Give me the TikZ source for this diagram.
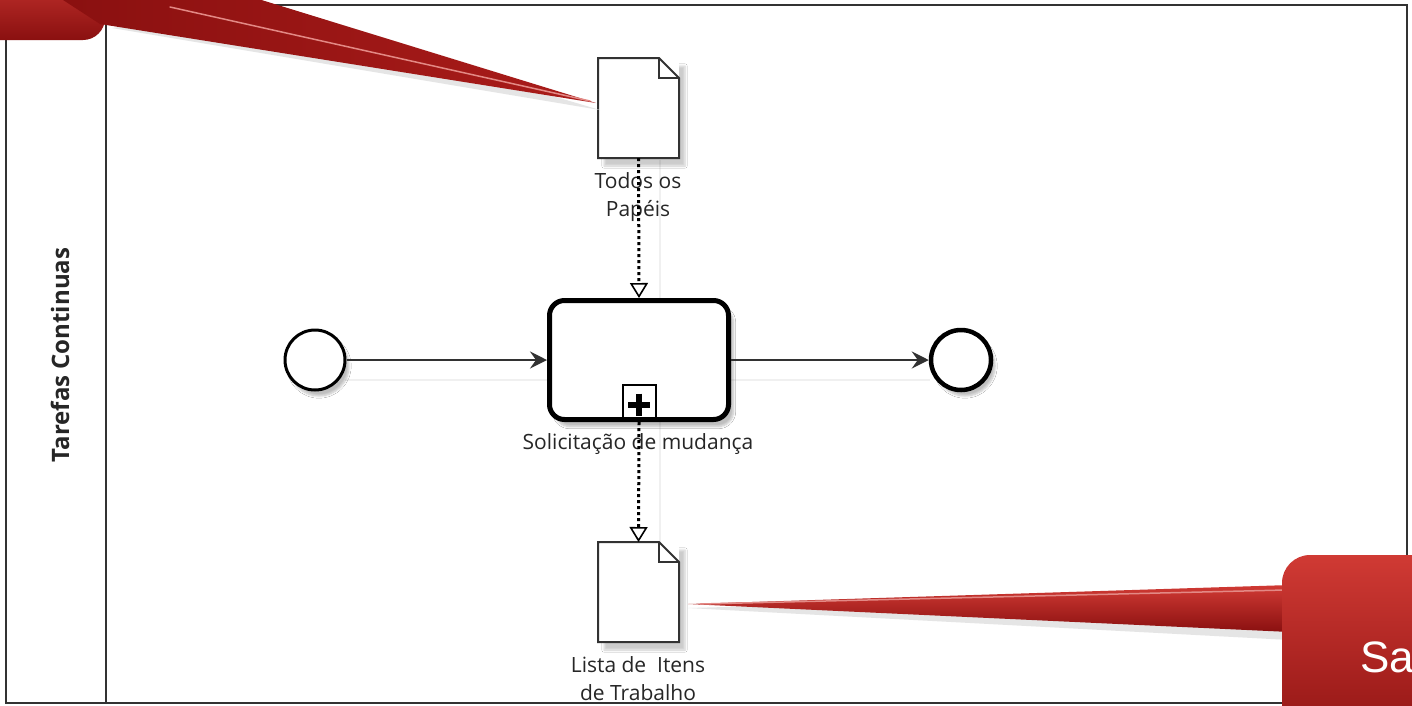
\documentclass[tikz,border=0pt]{standalone}
\usepackage{fontspec}
\setmainfont{Open Sans}
\newfontfamily\arialfont{Liberation Sans}
\usetikzlibrary{arrows.meta,calc,shadows.blur}
\definecolor{calltop}{RGB}{208,58,52}
\definecolor{callbot}{RGB}{138,16,16}
\definecolor{callmid}{RGB}{170,28,26}
\definecolor{edgegray}{RGB}{50,50,50}
\begin{document}
\begin{tikzpicture}[x=1pt,y=-1pt,
  lbl/.style={font=\fontsize{21}{28}\selectfont, text=black!85, align=center, inner sep=0},
  docbox/.style={minimum width=81, minimum height=100, inner sep=0, outer sep=0},
  docline/.style={draw=edgegray, line width=2, fill=white, line join=miter},
  evt/.style={circle, draw=black, fill=white, minimum size=60, inner sep=0, blur shadow={shadow blur steps=6, shadow xshift=4pt, shadow yshift=-6pt, shadow opacity=25}},
  seqflow/.style={draw=edgegray, line width=1.8, -{Stealth[length=17, width=17, inset=6]}},
  assoc/.style={draw=black, line width=3, dash pattern=on 3 off 3, -{Triangle[open, length=15, width=18, line width=1.6]}},
  shadowline/.style={draw=black!6, line width=2},
]
\useasboundingbox (0,0) rectangle (1412,705);
\clip (0,0) rectangle (1412,705);
\fill[white] (0,0) rectangle (1412,705);

% pool and lane
\draw[edgegray, line width=2.5] (6,5) rectangle (1407,703);
\draw[edgegray, line width=2.5] (106,5) -- (106,703);
\node[rotate=90, font=\bfseries\fontsize{24}{28}\selectfont, text=black!85, inner sep=0] (lane) at (60,355) {Tarefas Continuas};

% faint shadow lines
\draw[shadowline] (345,380) -- (547,380);
\draw[shadowline] (731,380) -- (930,380);
\draw[shadowline] (660,160) -- (660,299);
\draw[shadowline] (660,421) -- (660,542);

% events
\node[evt, line width=3] (start) at (315,360) {};
\node[evt, line width=4.5] (end) at (961,360) {};

% task
\node[draw=black, fill=white, line width=5, rounded corners=15, minimum width=179, minimum height=119, inner sep=0,
  blur shadow={shadow blur steps=6, shadow xshift=5pt, shadow yshift=-7pt, shadow opacity=25}] (task) at (639,360) {};
\node[draw=black, fill=white, line width=2, minimum size=33, inner sep=0] (mark) at (639,401.5) {};
\draw[line width=6] ($(mark.center)+(-11,3)$) -- ($(mark.center)+(11,3)$);
\draw[line width=6] ($(mark.center)+(0,-8)$) -- ($(mark.center)+(0,14)$);
\node[lbl] (tasklbl) at (638,444) {Solicitação de mudança};

% data objects
\node[docbox, blur shadow={shadow blur steps=6, shadow xshift=6pt, shadow yshift=-8pt, shadow opacity=20}, fill=white] (doc1) at (638.5,108) {};
\draw[docline] (doc1.north west) -- ($(doc1.north east)+(-20,0)$) -- ($(doc1.north east)+(0,20)$) -- (doc1.south east) -- (doc1.south west) -- cycle;
\draw[edgegray, line width=2] ($(doc1.north east)+(-20,0)$) |- ($(doc1.north east)+(0,20)$);
\node[lbl] (doc1lbl) at (638,197) {Todos os\\Papéis};

\node[docbox, blur shadow={shadow blur steps=6, shadow xshift=6pt, shadow yshift=-8pt, shadow opacity=20}, fill=white] (doc2) at (638.5,592) {};
\draw[docline] (doc2.north west) -- ($(doc2.north east)+(-20,0)$) -- ($(doc2.north east)+(0,20)$) -- (doc2.south east) -- (doc2.south west) -- cycle;
\draw[edgegray, line width=2] ($(doc2.north east)+(-20,0)$) |- ($(doc2.north east)+(0,20)$);
\node[lbl] (doc2lbl) at (638,679) {Lista de \ Itens\\de Trabalho};

% flows
\draw[seqflow] (start) -- (task);
\draw[seqflow] (task) -- (end);
\draw[assoc] (doc1.south) -- (task.north);
\draw[assoc] (task.south) -- (doc2.north);

% callout top-left
\fill[black!10] (112,28) -- (255,8) -- (600,110) -- cycle;
\path[top color=calltop, bottom color=callbot, rounded corners=22] (-40,-40) rectangle (105,40);
\path[left color=callbot, right color=callmid] (60,-2) -- (255,-2) -- (596,103) -- (100,24) -- cycle;
\draw[calltop!60!white, line width=1.5, line cap=round] (170,7) -- (590,101);
\coordinate (tip1) at (596,103);

% callout bottom-right
\fill[black!10] (688,608) -- (1290,592) -- (1290,640) -- cycle;
\path[top color=calltop, bottom color=callbot] (1290,585) -- (688,604) -- (1290,632) -- cycle;
\draw[calltop!60!white, line width=1.5] (700,604) -- (1285,590);
\path[top color=calltop, bottom color=callbot, rounded corners=28] (1282,555) rectangle (1460,760);
\node[anchor=west, text=white, font=\arialfont\fontsize{44}{50}\selectfont, inner sep=0] (satext) at (1360,657) {Sa};
\end{tikzpicture}
\end{document}
